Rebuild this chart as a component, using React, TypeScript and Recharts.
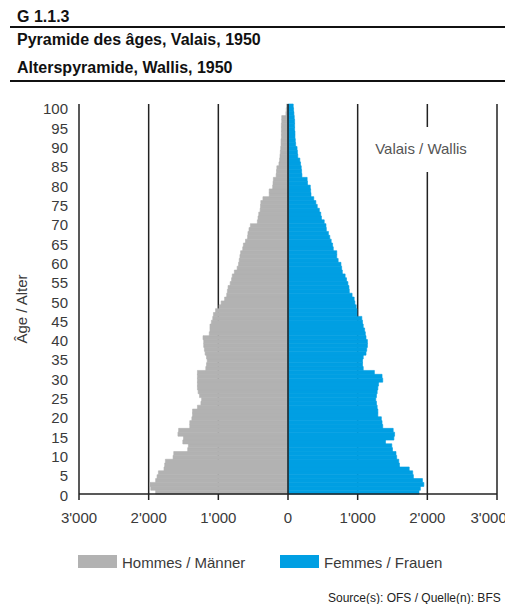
import React from 'react';
import { BarChart, Bar, XAxis, YAxis, CartesianGrid, ReferenceLine } from 'recharts';

const ages = [
  0, 1, 2, 3, 4, 5, 6, 7, 8, 9, 10, 11, 12, 13, 14, 15, 16, 17, 18, 19,
  20, 21, 22, 23, 24, 25, 26, 27, 28, 29, 30, 31, 32, 33, 34, 35, 36, 37, 38, 39,
  40, 41, 42, 43, 44, 45, 46, 47, 48, 49, 50, 51, 52, 53, 54, 55, 56, 57, 58, 59,
  60, 61, 62, 63, 64, 65, 66, 67, 68, 69, 70, 71, 72, 73, 74, 75, 76, 77, 78, 79,
  80, 81, 82, 83, 84, 85, 86, 87, 88, 89, 90, 91, 92, 93, 94, 95, 96, 97, 98, 99, 100,
];

// Hommes / Männer (by age 0..100)
const men = [
  1900, 1970, 1980, 1900, 1880, 1860, 1780, 1770, 1760, 1650,
  1640, 1440, 1430, 1510, 1500, 1580, 1570, 1410, 1410, 1380,
  1370, 1370, 1300, 1250, 1240, 1270, 1290, 1300, 1300, 1300,
  1300, 1300, 1180, 1170, 1160, 1170, 1190, 1200, 1210, 1210,
  1220, 1130, 1120, 1120, 1100, 1080, 1070, 1040, 990, 960,
  910, 880, 870, 860, 830, 810, 800, 770, 730, 710,
  700, 690, 680, 650, 640, 610, 580, 575, 560, 540,
  440, 430, 420, 400, 395, 390, 360, 270, 270, 220,
  215, 210, 170, 165, 160, 130, 120, 115, 110, 105,
  100, 100, 95, 95, 95, 95, 90, 90, 30, 25, 20,
];

// Femmes / Frauen (by age 0..100)
const women = [
  1880, 1900, 1950, 1930, 1800, 1790, 1740, 1600, 1590, 1560,
  1550, 1500, 1490, 1400, 1520, 1530, 1510, 1360, 1350, 1340,
  1290, 1290, 1280, 1270, 1260, 1270, 1280, 1290, 1300, 1360,
  1350, 1240, 1080, 1070, 1070, 1080, 1120, 1130, 1140, 1140,
  1120, 1110, 1100, 1080, 1070, 1060, 990, 990, 980, 960,
  950, 920, 880, 875, 860, 840, 820, 780, 770, 760,
  720, 700, 700, 650, 640, 620, 600, 580, 550, 545,
  520, 480, 470, 450, 420, 400, 370, 330, 325, 320,
  280, 275, 200, 195, 190, 180, 170, 140, 135, 130,
  110, 105, 100, 100, 95, 95, 95, 90, 85, 80, 75,
];

const yTicks = [0, 5, 10, 15, 20, 25, 30, 35, 40, 45, 50, 55, 60, 65, 70, 75, 80, 85, 90, 95, 100];
const xTicks = [-3000, -2000, -1000, 0, 1000, 2000, 3000];

const data = ages.map((a, i) => ({ age: a, men: -men[i], women: women[i] }));

const FONT = '"Liberation Sans", Arial, Helvetica, sans-serif';
const TEXT = '#3a3a3a';
const GREY = '#b2b2b2';
const BLUE = '#009fe3';
const LINE = '#222';

const fmt = (v: number) => {
  const a = Math.abs(v);
  if (a === 0) return '0';
  const s = String(a);
  return s.slice(0, s.length - 3) + "'" + s.slice(s.length - 3);
};

const YTick = (props: any) => {
  const { x, y, payload } = props;
  if (!yTicks.includes(Number(payload.value))) return null;
  return (
    <text x={x} y={y + 3} textAnchor="end" dominantBaseline="central" fontSize={15} fontFamily={FONT} fill={TEXT}>
      {payload.value}
    </text>
  );
};

export default function App() {
  return (
    <div style={{ position: 'absolute', left: 0, top: 0, width: 505, height: 604, background: '#fff', fontFamily: FONT }}>
      <BarChart
        width={505}
        height={604}
        data={data}
        layout="vertical"
        stackOffset="sign"
        barCategoryGap={0}
        barGap={0}
        margin={{ top: 104, right: 8, bottom: 80, left: 19 }}
      >
        <CartesianGrid horizontal={false} vertical={true} stroke={LINE} strokeWidth={1.5} />
        <XAxis
          type="number"
          domain={[-3000, 3000]}
          ticks={xTicks}
          tickFormatter={fmt}
          allowDataOverflow
          height={30}
          tickSize={6}
          tickMargin={12}
          stroke={LINE}
          axisLine={{ stroke: LINE, strokeWidth: 1.5 }}
          tickLine={{ stroke: LINE, strokeWidth: 1.5 }}
          tick={{ fontSize: 15, fontFamily: FONT, fill: TEXT }}
        />
        <XAxis
          xAxisId="top"
          orientation="top"
          type="number"
          domain={[-3000, 3000]}
          height={0}
          tick={false}
          tickLine={false}
          axisLine={{ stroke: LINE, strokeWidth: 1.5 }}
        />
        <YAxis
          type="category"
          dataKey="age"
          reversed
          interval={4}
          width={60}
          tickLine={false}
          axisLine={false}
          tickSize={0}
          tickMargin={11}
          tick={<YTick />}
        />
        <Bar dataKey="men" stackId="a" fill={GREY} stroke={GREY} strokeWidth={0.6} isAnimationActive={false} />
        <Bar dataKey="women" stackId="a" fill={BLUE} stroke={BLUE} strokeWidth={0.6} isAnimationActive={false} />
        <ReferenceLine x={0} stroke={LINE} strokeWidth={1.5} />
      </BarChart>

      <svg width={505} height={604} style={{ position: 'absolute', left: 0, top: 0, pointerEvents: 'none' }}>
        <text x={17} y={21.5} fontSize={16} fontWeight="bold" fontFamily={FONT} fill="#111">G 1.1.3</text>
        <line x1={10} x2={505} y1={27} y2={27} stroke="#111" strokeWidth={2} />
        <text x={17} y={45} fontSize={16} fontWeight="bold" fontFamily={FONT} fill="#111">Pyramide des âges, Valais, 1950</text>
        <text x={17} y={73} fontSize={16} fontWeight="bold" fontFamily={FONT} fill="#111">Alterspyramide, Wallis, 1950</text>
        <line x1={10} x2={505} y1={81} y2={81} stroke="#111" strokeWidth={2} />

        <rect x={372} y={127} width={100} height={45} fill="#fff" />
        <text x={421} y={148} textAnchor="middle" dominantBaseline="central" fontSize={15} fontFamily={FONT} fill="#555">Valais / Wallis</text>

        <text x={21} y={309} transform="rotate(-90 21 309)" textAnchor="middle" dominantBaseline="central" fontSize={15} fontFamily={FONT} fill={TEXT}>Âge / Alter</text>

        <rect x={78} y={555} width={39} height={13} fill={GREY} />
        <text x={122} y={562} dominantBaseline="central" fontSize={15} fontFamily={FONT} fill={TEXT}>Hommes / Männer</text>
        <rect x={280} y={555} width={39} height={13} fill={BLUE} />
        <text x={324} y={562} dominantBaseline="central" fontSize={15} fontFamily={FONT} fill={TEXT}>Femmes / Frauen</text>

        <text x={328} y={598} dominantBaseline="central" fontSize={12} fontFamily={FONT} fill="#222">Source(s): OFS / Quelle(n): BFS</text>
      </svg>
    </div>
  );
}
